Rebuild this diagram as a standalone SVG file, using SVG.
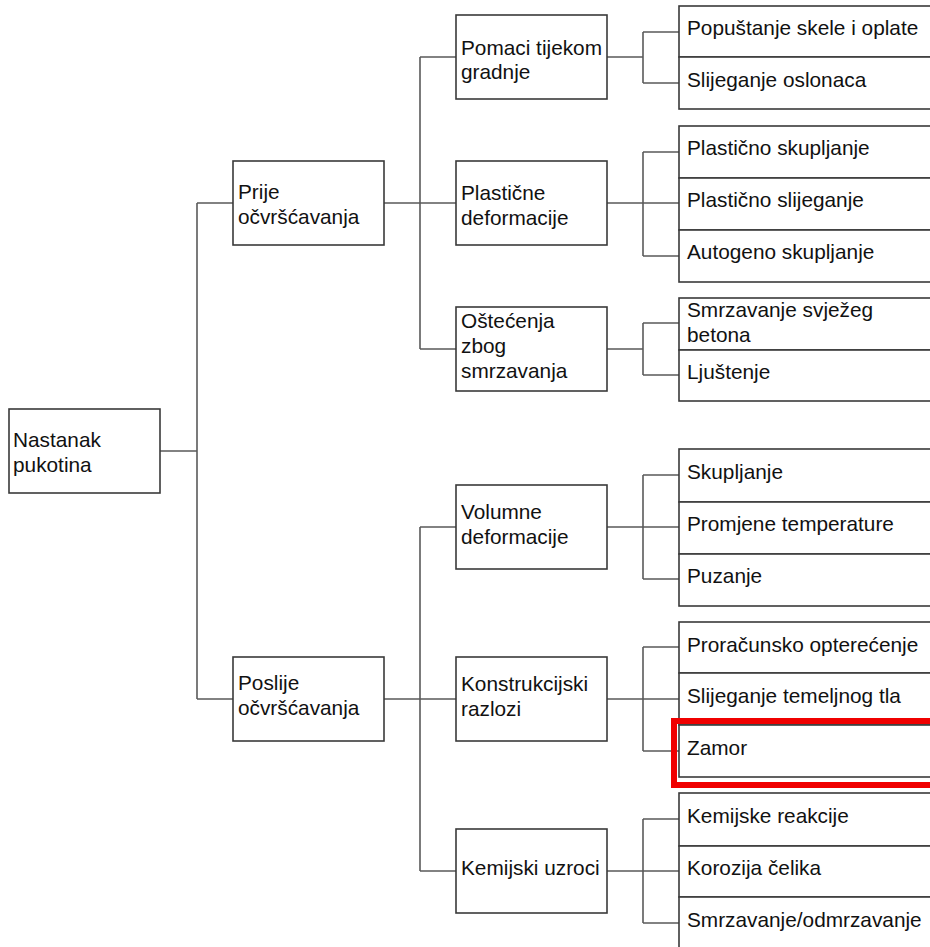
<svg xmlns="http://www.w3.org/2000/svg" width="930" height="947" viewBox="0 0 930 947">
<style>
.box{fill:#fff;stroke:#3a3a3a;stroke-width:1.6}
.t{font-family:"Liberation Sans",Arial,sans-serif;font-size:20.8px;fill:#111}
.c{fill:none;stroke:#5a5a5a;stroke-width:1.6}
.hl{fill:none;stroke:#f00000;stroke-width:6}
</style>
<rect width="930" height="947" fill="#fff"/>
<g id="connectors">
<path class="c" d="M160 451H197M197 203V699M197 203H233M197 699H233"/>
<path class="c" d="M384 203H420M420 57V349M420 57H456M420 203H456M420 349H456"/>
<path class="c" d="M384 699H420M420 527V871M420 527H456M420 699H456M420 871H456"/>
<path class="c" d="M607 57H643M643 32V83M643 32H679M643 83H679"/>
<path class="c" d="M607 203H679M643 152V256M643 152H679M643 256H679"/>
<path class="c" d="M607 349H643M643 323V375M643 323H679M643 375H679"/>
<path class="c" d="M607 527H679M643 475V579M643 475H679M643 579H679"/>
<path class="c" d="M607 699H679M643 647V751M643 647H679M643 751H679"/>
<path class="c" d="M607 871H679M643 819V923M643 819H679M643 923H679"/>
</g>
<g id="root"><rect class="box" x="9" y="409" width="151" height="84"/><text class="t" x="13" y="447">Nastanak</text><text class="t" x="13" y="472">pukotina</text></g>
<g id="prije"><rect class="box" x="233" y="161" width="151" height="84"/><text class="t" x="238" y="199">Prije</text><text class="t" x="238" y="224">očvršćavanja</text></g>
<g id="poslije"><rect class="box" x="233" y="657" width="151" height="84"/><text class="t" x="238" y="690">Poslije</text><text class="t" x="238" y="715">očvršćavanja</text></g>
<g id="pomaci"><rect class="box" x="456" y="15" width="151" height="84"/><text class="t" x="461" y="55">Pomaci tijekom</text><text class="t" x="461" y="79">gradnje</text></g>
<g id="plasticne"><rect class="box" x="456" y="161" width="151" height="84"/><text class="t" x="461" y="200">Plastične</text><text class="t" x="461" y="225">deformacije</text></g>
<g id="ostecenja"><rect class="box" x="456" y="307" width="151" height="84"/><text class="t" x="461" y="328">Oštećenja</text><text class="t" x="461" y="353">zbog</text><text class="t" x="461" y="378">smrzavanja</text></g>
<g id="volumne"><rect class="box" x="456" y="485" width="151" height="84"/><text class="t" x="461" y="519">Volumne</text><text class="t" x="461" y="544">deformacije</text></g>
<g id="konstrukcijski"><rect class="box" x="456" y="657" width="151" height="84"/><text class="t" x="461" y="691">Konstrukcijski</text><text class="t" x="461" y="716">razlozi</text></g>
<g id="kemijski"><rect class="box" x="456" y="829" width="151" height="84"/><text class="t" x="461" y="875">Kemijski uzroci</text></g>
<g id="leaf1"><rect class="box" x="679" y="6" width="270" height="51"/><text class="t" x="687" y="35">Popuštanje skele i oplate</text></g>
<g id="leaf2"><rect class="box" x="679" y="57" width="270" height="52"/><text class="t" x="687" y="87">Slijeganje oslonaca</text></g>
<g id="leaf3"><rect class="box" x="679" y="126" width="270" height="52"/><text class="t" x="687" y="155">Plastično skupljanje</text></g>
<g id="leaf4"><rect class="box" x="679" y="178" width="270" height="52"/><text class="t" x="687" y="207">Plastično slijeganje</text></g>
<g id="leaf5"><rect class="box" x="679" y="230" width="270" height="52"/><text class="t" x="687" y="259">Autogeno skupljanje</text></g>
<g id="leaf6"><rect class="box" x="679" y="298" width="270" height="52"/><text class="t" x="687" y="317">Smrzavanje svježeg</text><text class="t" x="687" y="342">betona</text></g>
<g id="leaf7"><rect class="box" x="679" y="350" width="270" height="51"/><text class="t" x="687" y="379">Ljuštenje</text></g>
<g id="leaf8"><rect class="box" x="679" y="449" width="270" height="53"/><text class="t" x="687" y="479">Skupljanje</text></g>
<g id="leaf9"><rect class="box" x="679" y="502" width="270" height="52"/><text class="t" x="687" y="531">Promjene temperature</text></g>
<g id="leaf10"><rect class="box" x="679" y="554" width="270" height="52"/><text class="t" x="687" y="583">Puzanje</text></g>
<g id="leaf11"><rect class="box" x="679" y="622" width="270" height="51"/><text class="t" x="687" y="652">Proračunsko opterećenje</text></g>
<g id="leaf12"><rect class="box" x="679" y="673" width="270" height="52"/><text class="t" x="687" y="703">Slijeganje temeljnog tla</text></g>
<g id="leaf13"><rect class="box" x="679" y="725" width="270" height="52"/><text class="t" x="687" y="755">Zamor</text></g>
<g id="leaf14"><rect class="box" x="679" y="793" width="270" height="53"/><text class="t" x="687" y="823">Kemijske reakcije</text></g>
<g id="leaf15"><rect class="box" x="679" y="846" width="270" height="51"/><text class="t" x="687" y="875">Korozija čelika</text></g>
<g id="leaf16"><rect class="box" x="679" y="897" width="270" height="52"/><text class="t" x="687" y="927">Smrzavanje/odmrzavanje</text></g>
<g id="highlight"><rect class="hl" x="674" y="721" width="270" height="64"/></g>
</svg>
